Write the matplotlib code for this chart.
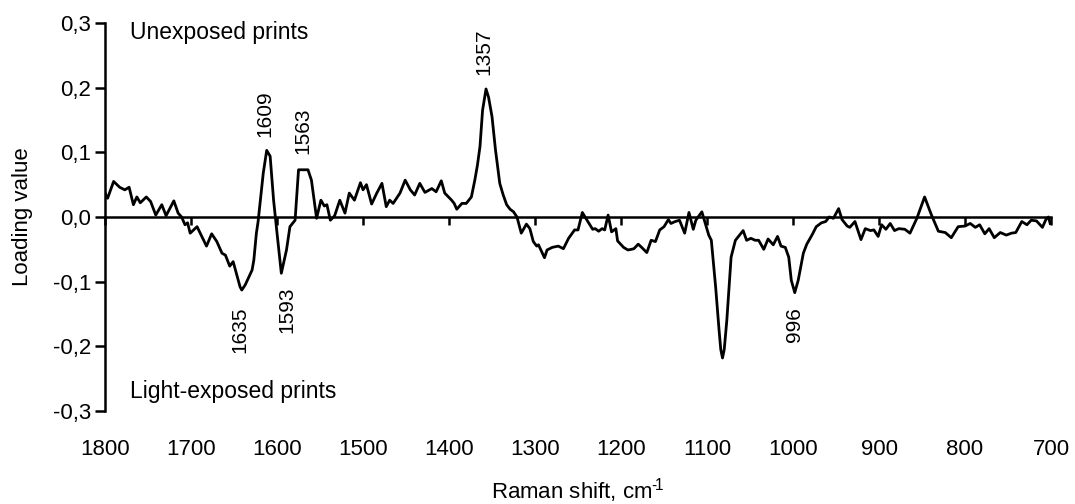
import matplotlib
matplotlib.use("Agg")
import matplotlib.pyplot as plt
from matplotlib.ticker import FuncFormatter

plt.rcParams['font.family'] = ['Liberation Sans', 'DejaVu Sans']
plt.rcParams['mathtext.fontset'] = 'custom'
plt.rcParams['mathtext.rm'] = 'Liberation Sans'
plt.rcParams['mathtext.it'] = 'Liberation Sans'
plt.rcParams['axes.unicode_minus'] = False

# Raman shift (cm-1) and loading values
shift = [1800, 1797, 1790, 1783, 1777, 1772, 1767, 1763, 1759, 1752, 1747, 1741, 1734, 1729,
         1720, 1715, 1711, 1707, 1704, 1701, 1693, 1682, 1676, 1670, 1664, 1660, 1655, 1651,
         1643, 1641, 1637, 1629, 1627, 1624, 1622, 1616, 1612, 1608, 1604, 1600, 1595, 1589,
         1585, 1579, 1575, 1564, 1560, 1554, 1549, 1545, 1542, 1538, 1533, 1527, 1521, 1516,
         1510, 1503, 1500, 1496, 1490, 1484, 1478, 1473, 1469, 1465, 1457, 1451, 1445, 1440,
         1434, 1428, 1420, 1415, 1409, 1405, 1397, 1394, 1391, 1385, 1380, 1374, 1370, 1367,
         1364, 1361, 1357, 1354, 1350, 1346, 1341, 1337, 1333, 1329, 1325, 1321, 1316, 1310,
         1306, 1302, 1298, 1296, 1289, 1286, 1280, 1273, 1267, 1261, 1254, 1250, 1245, 1240,
         1233, 1230, 1226, 1222, 1219, 1215, 1211, 1206, 1204, 1197, 1192, 1188, 1185, 1180,
         1176, 1170, 1165, 1160, 1155, 1150, 1145, 1142, 1137, 1132, 1126, 1121, 1116, 1113,
         1106, 1102, 1098, 1095, 1090, 1086, 1084, 1082, 1080, 1077, 1072, 1067, 1058, 1054,
         1049, 1044, 1040, 1034, 1029, 1023, 1018, 1014, 1009, 1005, 1002, 998, 994, 988,
         984, 978, 973, 967, 962, 958, 953, 947, 943, 937, 934, 928, 921, 916, 910, 906, 901,
         897, 892, 887, 882, 877, 870, 864, 856, 847, 839, 831, 823, 816, 808, 800, 794, 788,
         783, 777, 772, 766, 759, 752, 746, 741, 734, 728, 723, 717, 710, 706, 703, 701]

loading = [0.037, 0.029, 0.055, 0.046, 0.042, 0.046, 0.019, 0.031, 0.022, 0.031, 0.024, 0.003,
           0.019, 0.002, 0.025, 0.006, 0.000, -0.012, -0.009, -0.025, -0.015, -0.045, -0.026,
           -0.038, -0.056, -0.059, -0.076, -0.069, -0.108, -0.113, -0.105, -0.082, -0.067,
           -0.025, -0.007, 0.068, 0.103, 0.094, 0.026, -0.025, -0.087, -0.051, -0.015, -0.005,
           0.073, 0.073, 0.057, -0.002, 0.026, 0.017, 0.019, -0.005, 0.002, 0.026, 0.006, 0.037,
           0.026, 0.053, 0.042, 0.050, 0.020, 0.037, 0.052, 0.016, 0.026, 0.021, 0.037, 0.057,
           0.042, 0.034, 0.052, 0.038, 0.044, 0.039, 0.056, 0.037, 0.026, 0.021, 0.012, 0.021,
           0.021, 0.031, 0.057, 0.080, 0.109, 0.165, 0.198, 0.185, 0.155, 0.104, 0.052, 0.034,
           0.019, 0.012, 0.008, 0.000, -0.025, -0.011, -0.018, -0.038, -0.045, -0.043, -0.063,
           -0.051, -0.047, -0.045, -0.049, -0.033, -0.020, -0.020, 0.007, -0.004, -0.019, -0.018,
           -0.022, -0.018, -0.020, 0.003, -0.023, -0.018, -0.037, -0.047, -0.051, -0.050, -0.049,
           -0.042, -0.047, -0.055, -0.036, -0.038, -0.020, -0.015, -0.004, -0.010, -0.007, -0.005,
           -0.025, 0.007, -0.019, -0.005, 0.008, -0.010, -0.028, -0.036, -0.108, -0.175, -0.205,
           -0.218, -0.205, -0.160, -0.062, -0.036, -0.021, -0.036, -0.033, -0.036, -0.036, -0.050,
           -0.034, -0.043, -0.030, -0.045, -0.047, -0.062, -0.098, -0.117, -0.098, -0.056, -0.042,
           -0.028, -0.015, -0.009, -0.007, 0.000, -0.002, 0.013, -0.004, -0.014, -0.016, -0.007,
           -0.035, -0.018, -0.021, -0.020, -0.030, -0.012, -0.019, -0.010, -0.021, -0.018, -0.019,
           -0.025, -0.002, 0.031, 0.003, -0.022, -0.024, -0.032, -0.015, -0.014, -0.010, -0.016,
           -0.012, -0.026, -0.018, -0.032, -0.024, -0.028, -0.025, -0.024, -0.007, -0.012, -0.005,
           -0.006, -0.016, -0.004, 0.000, -0.010]

peak_labels = ["1609", "1563", "1357", "1635", "1593", "996"]
peak_label_pos = [(1614, 0.160), (1570, 0.133), (1360, 0.256),
                  (1643, -0.175), (1588, -0.143), (998, -0.167)]

x_ticks = [1800, 1700, 1600, 1500, 1400, 1300, 1200, 1100, 1000, 900, 800, 700]
y_ticks = [-0.3, -0.2, -0.1, 0.0, 0.1, 0.2, 0.3]

fig = plt.figure(figsize=(10.75, 5.04), dpi=100)
ax = fig.add_axes([0.0977, 0.1845, 0.8800, 0.7699])

ax.plot(shift, loading, color='black', lw=2.0, solid_joinstyle='round')

ax.set_xlim(1800, 700)
ax.set_ylim(-0.3, 0.3)

for s in ['top', 'right', 'bottom']:
    ax.spines[s].set_visible(False)
ax.spines['left'].set_linewidth(1.8)

ax.set_yticks(y_ticks)
ax.yaxis.set_major_formatter(FuncFormatter(lambda v, p: f"{v:.1f}".replace('.', ',').replace('-0,0', '0,0')))
ax.tick_params(axis='y', direction='out', length=7, width=1.8, labelsize=16, pad=3)

ax.set_xticks(x_ticks)
ax.set_xticklabels([str(t) for t in x_ticks])
ax.tick_params(axis='x', length=0, labelsize=16, pad=20)

# zero line with downward ticks
sec = ax.secondary_xaxis(0.5)
sec.set_xticks(x_ticks)
sec.tick_params(axis='x', which='both', direction='in', length=6, width=1.8,
                labelbottom=False, labeltop=False)
for sp in sec.spines.values():
    sp.set_linewidth(1.8)

ax.set_ylabel("Loading value", fontsize=16, labelpad=14)
ax.set_xlabel("Raman shift, cm$^{\u2010\\!1}$", fontsize=16, labelpad=12)

ax.text(1771, 0.285, "Unexposed prints", fontsize=16.5, ha='left', va='center')
ax.text(1771, -0.27, "Light-exposed prints", fontsize=16.5, ha='left', va='center')

for lab, (px, py) in zip(peak_labels, peak_label_pos):
    ax.text(px, py, lab, rotation=90, fontsize=15, ha='center', va='center')

fig.savefig("out.png", dpi=100)
